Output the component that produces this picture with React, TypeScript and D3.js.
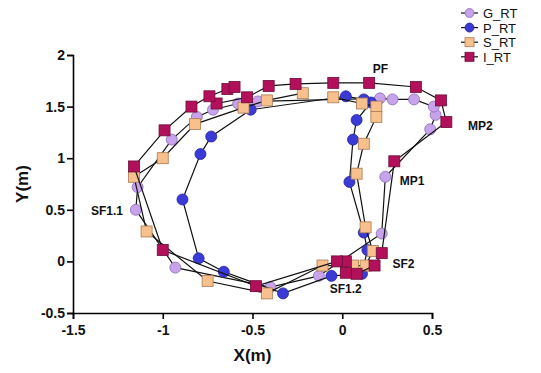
import { useRef, useEffect } from 'react';
import * as d3 from 'd3';

// trajectories, in metres
const G_X = [-1.15, -0.93, -0.40, -0.13, 0.22, 0.24, 0.49, 0.52, 0.51, 0.40, 0.28, 0.21, -0.47, -0.58, -0.72, -0.81, -0.95, -1.14];
const G_Y = [0.50, -0.06, -0.25, -0.14, 0.27, 0.82, 1.28, 1.42, 1.50, 1.57, 1.57, 1.58, 1.55, 1.53, 1.47, 1.40, 1.18, 0.72];

const P_X = [-0.51, -0.73, -0.79, -0.89, -0.80, -0.66, -0.33, -0.06, 0.11, 0.14, 0.12, 0.04, 0.06, 0.08, 0.16, 0.12, 0.02];
const P_Y = [1.47, 1.21, 1.04, 0.60, 0.03, -0.10, -0.31, -0.14, -0.12, 0.11, 0.28, 0.77, 1.18, 1.37, 1.54, 1.57, 1.60];

const S_X = [-0.05, 0.11, 0.19, 0.19, 0.12, 0.08, 0.13, 0.17, 0.13, 0.06, -0.11, -0.42, -0.75, -1.09, -1.16, -1.00, -0.82, -0.55, -0.42, -0.22];
const S_Y = [1.59, 1.53, 1.50, 1.40, 1.14, 0.85, 0.33, 0.10, -0.04, -0.04, -0.04, -0.31, -0.19, 0.29, 0.82, 1.00, 1.33, 1.49, 1.56, 1.63];

const I_X = [-0.70, -0.53, -0.41, -0.26, -0.05, 0.15, 0.41, 0.55, 0.58, 0.29, 0.22, 0.18, 0.08, 0.02, 0.02, -0.03, -0.48, -1.00, -1.16, -0.99, -0.84, -0.74, -0.64, -0.60];
const I_Y = [1.53, 1.59, 1.70, 1.72, 1.73, 1.73, 1.69, 1.56, 1.35, 0.97, 0.08, -0.04, -0.12, -0.11, 0.00, 0.00, -0.24, 0.11, 0.92, 1.27, 1.50, 1.60, 1.67, 1.69];

const SERIES = ["G_RT", "P_RT", "S_RT", "I_RT"];
const X_TICKS = [-1.5, -1, -0.5, 0, 0.5];
const Y_TICKS = [-0.5, 0, 0.5, 1, 1.5, 2];

const PHASES = ["PF", "MP2", "MP1", "SF1.1", "SF2", "SF1.2"];
const PHASE_X = [0.17, 0.70, 0.32, -1.40, 0.28, -0.07];
const PHASE_Y = [1.83, 1.27, 0.74, 0.45, -0.06, -0.31];

const STYLE = {
  G_RT: { shape: "circle", fill: "#c6a3ea", stroke: "#8c6cb4" },
  P_RT: { shape: "circle", fill: "#3a3ad6", stroke: "#23239a" },
  S_RT: { shape: "square", fill: "#f7c08c", stroke: "#a87a52" },
  I_RT: { shape: "square", fill: "#b3105c", stroke: "#6e0c38" },
};

const FONT = "'Liberation Sans', Arial, sans-serif";

function App() {
  const svgRef = useRef<SVGSVGElement>(null);

  useEffect(() => {
    const svg = d3.select(svgRef.current);
    svg.selectAll("*").remove();

    const x = d3.scaleLinear().domain([-1.5, 0.5]).range([73, 432]);
    const y = d3.scaleLinear().domain([-0.5, 2]).range([313, 55]);

    const data = {
      G_RT: G_X.map((v, i) => [v, G_Y[i]]),
      P_RT: P_X.map((v, i) => [v, P_Y[i]]),
      S_RT: S_X.map((v, i) => [v, S_Y[i]]),
      I_RT: I_X.map((v, i) => [v, I_Y[i]]),
    };
    const closed = { G_RT: true, P_RT: true, S_RT: false, I_RT: false };

    // axes
    const xAxis = svg.append("g")
      .attr("transform", `translate(0,${y(-0.5)})`)
      .call(d3.axisBottom(x).tickValues(X_TICKS).tickSize(6).tickPadding(6).tickFormat(d3.format("")));
    const yAxis = svg.append("g")
      .attr("transform", `translate(${x(-1.5)},0)`)
      .call(d3.axisLeft(y).tickValues(Y_TICKS).tickSize(6).tickPadding(2).tickFormat(d3.format("")));
    [xAxis, yAxis].forEach(a => {
      a.select(".domain").attr("stroke", "#000").attr("stroke-width", 1.6);
      a.selectAll(".tick line").attr("stroke", "#000").attr("stroke-width", 1.6);
      a.selectAll("text")
        .attr("fill", "#111")
        .style("font-family", FONT)
        .style("font-size", "14px")
        .style("font-weight", "bold");
    });
    xAxis.selectAll("text").text((d: any) => d < 0 ? "-" + Math.abs(d) : String(d));
    yAxis.selectAll("text").text((d: any) => d < 0 ? "-" + Math.abs(d) : String(d));

    svg.append("text")
      .attr("x", x(-0.5)).attr("y", 361)
      .attr("text-anchor", "middle")
      .style("font-family", FONT).style("font-size", "17px").style("font-weight", "bold")
      .attr("fill", "#111")
      .text("X(m)");
    svg.append("text")
      .attr("transform", `translate(28,${y(0.75)}) rotate(-90)`)
      .attr("text-anchor", "middle")
      .style("font-family", FONT).style("font-size", "17px").style("font-weight", "bold")
      .attr("fill", "#111")
      .text("Y(m)");

    const line = d3.line<number[]>().x(d => x(d[0])).y(d => y(d[1]));

    const drawMarker = (g: any, name: string, cx: number, cy: number, s: number) => {
      const st = STYLE[name];
      if (st.shape === "circle") {
        g.append("circle").attr("cx", cx).attr("cy", cy).attr("r", s / 2)
          .attr("fill", st.fill).attr("stroke", st.stroke).attr("stroke-width", 0.8);
      } else {
        g.append("rect").attr("x", cx - s / 2).attr("y", cy - s / 2).attr("width", s).attr("height", s)
          .attr("fill", st.fill).attr("stroke", st.stroke).attr("stroke-width", 0.8);
      }
    };

    SERIES.forEach(name => {
      const pts = data[name];
      const g = svg.append("g");
      const path = closed[name] ? [...pts, pts[0]] : pts;
      g.append("path").attr("d", line(path)).attr("fill", "none")
        .attr("stroke", "#111").attr("stroke-width", 1.2);
      pts.forEach(p => drawMarker(g, name, x(p[0]), y(p[1]), 11));
    });

    // phase labels
    PHASES.forEach((t, i) => {
      svg.append("text")
        .attr("x", x(PHASE_X[i])).attr("y", y(PHASE_Y[i]))
        .style("font-family", FONT).style("font-size", "12px").style("font-weight", "bold")
        .attr("fill", "#111")
        .text(t);
    });

    // legend
    SERIES.forEach((name, i) => {
      const ly = 13 + i * 14.6;
      const g = svg.append("g");
      g.append("line").attr("x1", 461).attr("x2", 478).attr("y1", ly).attr("y2", ly)
        .attr("stroke", "#111").attr("stroke-width", 1.2);
      drawMarker(g, name, 469.5, ly, 9);
      g.append("text").attr("x", 483).attr("y", ly + 5)
        .style("font-family", FONT).style("font-size", "13px")
        .attr("fill", "#111")
        .text(name);
    });
  }, []);

  return (
    <svg ref={svgRef} width={541} height={373}
      style={{ position: "absolute", left: 0, top: 0, background: "#fff" }} />
  );
}

export default App;
